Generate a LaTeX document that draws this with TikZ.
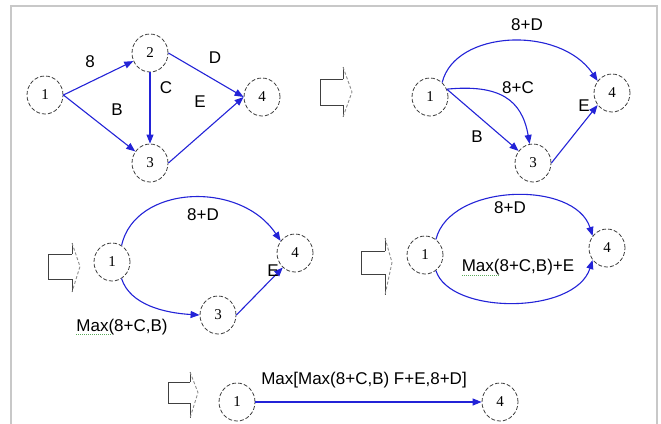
\documentclass[tikz,border=0pt]{standalone}
\usepackage{fontspec}
\setmainfont{Liberation Serif}
\setsansfont{Liberation Sans}
\usetikzlibrary{arrows.meta,shapes.geometric}
\definecolor{edgeblue}{RGB}{35,35,215}
\definecolor{framegrey}{RGB}{200,200,200}
\definecolor{nodegrey}{RGB}{60,60,60}
\definecolor{spellgreen}{RGB}{90,170,90}
\tikzset{
  ev/.style={draw=nodegrey, line width=0.8pt, dash pattern=on 4pt off 2pt, ellipse,
    minimum width=36pt, minimum height=38pt, inner sep=0pt,
    font=\fontsize{15}{15}\selectfont},
  conn/.style={draw=edgeblue, line width=1.1pt, -{Triangle[length=9pt,width=7pt]}},
  lab/.style={font=\sffamily\fontsize{17}{17}\selectfont, inner sep=0pt},
  bodyline/.style={draw=black!75, line width=0.9pt},
  headline/.style={draw=black!45, line width=0.9pt, dash pattern=on 3pt off 2pt},
  spell/.style={draw=spellgreen, line width=0.8pt, dash pattern=on 1pt off 1pt}
}
\newcommand{\hollowarrow}[7]{% bodyleft, bodyright, top, bottom, headtop, headbottom, tipx
  \draw[bodyline] (#2,#3) -- (#1,#3) -- (#1,#4) -- (#2,#4);
  \draw[bodyline] (#2,#3) -- (#2,#5);
  \draw[bodyline] (#2,#4) -- (#2,#6);
  \draw[headline] (#2,#5) -- (#7,{(#3+#4)/2}) -- (#2,#6);
}
\begin{document}
\begin{tikzpicture}[x=1pt,y=-1pt]
\useasboundingbox (0,0) rectangle (661,423);
% frame
\draw[framegrey, line width=2pt] (11,430) -- (11,6) -- (657,6) -- (657,430);

% ---------- diagram 1 ----------
\node[ev] (a1) at (45,95) {1};
\node[ev] (a2) at (150,53) {2};
\node[ev] (a3) at (150,163) {3};
\node[ev] (a4) at (262,97) {4};
\draw[conn] (a1.east) -- (a2);
\draw[conn] (a1.east) -- (a3);
\draw[conn] (a2) -- (a3);
\draw[conn] (a2.east) -- (a4.west);
\draw[conn] (a3.east) -- (a4.west);
\node[lab] at (90,62) {8};
\node[lab] at (117,110) {B};
\node[lab] at (166,88) {C};
\node[lab] at (215,58) {D};
\node[lab] at (200,102) {E};

\hollowarrow{320}{343}{79}{105}{67}{117}{352}

% ---------- diagram 2 ----------
\node[ev] (b1) at (430,97) {1};
\node[ev] (b3) at (533,163) {3};
\node[ev] (b4) at (612,93) {4};
\draw[conn] (b1.50) .. controls (455,30) and (560,25) .. (b4.140);
\draw[conn] (b1.25) .. controls (500,84) and (522,100) .. (b3.100);
\draw[conn] (b1.25) -- (b3.140);
\draw[conn] (b3.east) -- (b4.220);
\node[lab] at (527,25) {8+D};
\node[lab] at (518,88) {8+C};
\node[lab] at (477,137) {B};
\node[lab] at (584,106) {E};

\hollowarrow{48}{72}{254}{279}{243}{292}{80}

% ---------- diagram 3 ----------
\node[ev] (c1) at (112,262) {1};
\node[ev] (c3) at (218,315) {3};
\node[ev] (c4) at (295,253) {4};
\draw[conn] (c1.60) .. controls (135,185) and (240,180) .. (c4.140);
\draw[conn] (c1.300) .. controls (130,305) and (165,313) .. (c3.west);
\draw[conn] (c3.east) -- (c4.230);
\node[lab] at (203,215) {8+D};
\node[lab] at (273,271) {E};
\node[lab] (cm) at (122,327) {Max(8+C,B)};
\draw[spell] (76,334) -- (112,334);

\hollowarrow{361}{385}{251}{274}{238}{295}{392}

% ---------- diagram 4 ----------
\node[ev] (d1) at (425,255) {1};
\node[ev] (d4) at (607,248) {4};
\draw[conn] (d1.55) .. controls (450,183) and (575,180) .. (d4.140);
\draw[conn] (d1.305) .. controls (450,315) and (575,315) .. (d4.220);
\node[lab] at (510,208) {8+D};
\node[lab] at (518,267) {Max(8+C,B)+E};
\draw[spell] (462,275) -- (500,275);

% ---------- diagram 5 ----------
\hollowarrow{168}{190}{382}{403}{372}{418}{198}
\node[ev] (e1) at (237,402) {1};
\node[ev] (e4) at (500,402) {4};
\draw[conn] (e1.east) -- (e4.west);
\node[lab] at (364,380) {Max[Max(8+C,B) F+E,8+D]};
\end{tikzpicture}
\end{document}
